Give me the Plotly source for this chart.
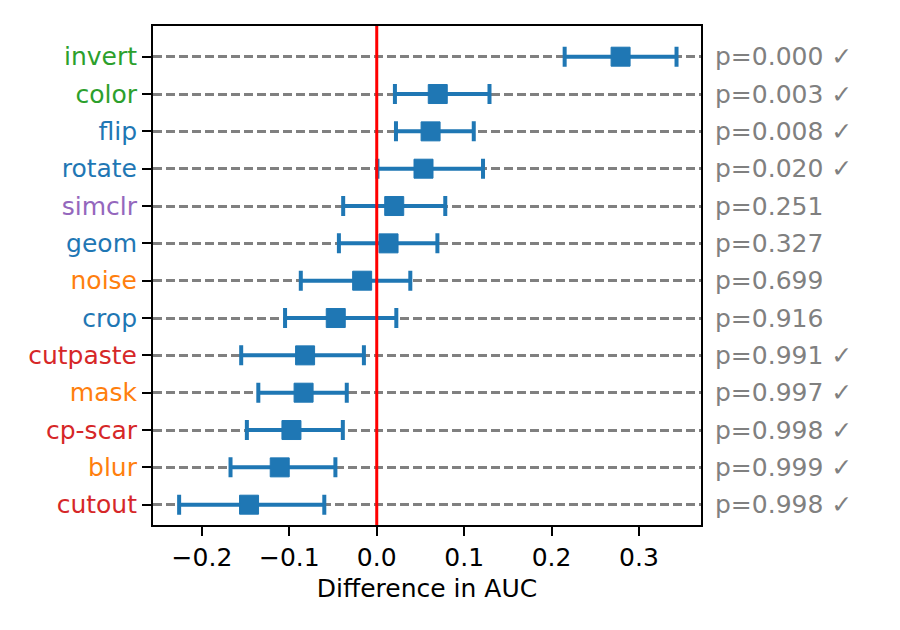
import plotly.graph_objects as go

# ---- data (top row first) ----
methods = ["invert", "color", "flip", "rotate", "simclr", "geom", "noise",
           "crop", "cutpaste", "mask", "cp-scar", "blur", "cutout"]
mean_diff = [0.279, 0.0698, 0.0616, 0.0535, 0.020, 0.0135, -0.0167,
             -0.0469, -0.082, -0.0837, -0.0976, -0.111, -0.1461]
ci_low = [0.215, 0.0208, 0.022, 0.0008, -0.0384, -0.0433, -0.0869,
          -0.1049, -0.1551, -0.1355, -0.1486, -0.1673, -0.2261]
ci_high = [0.343, 0.129, 0.111, 0.1216, 0.0784, 0.0694, 0.0384,
           0.0224, -0.0147, -0.0343, -0.0388, -0.0473, -0.060]
p_values = ["0.000", "0.003", "0.008", "0.020", "0.251", "0.327", "0.699",
            "0.916", "0.991", "0.997", "0.998", "0.999", "0.998"]
significant = [True, True, True, True, False, False, False,
               False, True, True, True, True, True]
label_colors = ["#2ca02c", "#2ca02c", "#1f77b4", "#1f77b4", "#9467bd", "#1f77b4",
                "#ff7f0e", "#1f77b4", "#d62728", "#ff7f0e", "#d62728", "#ff7f0e",
                "#d62728"]
x_tickvals = [-0.2, -0.1, 0.0, 0.1, 0.2, 0.3]
x_ticktext = ["\u22120.2", "\u22120.1", "0.0", "0.1", "0.2", "0.3"]

FONT = "DejaVu Sans"
FS = 25
BLUE = "#1f77b4"

err_plus = [h - m for h, m in zip(ci_high, mean_diff)]
err_minus = [m - l for m, l in zip(mean_diff, ci_low)]

fig = go.Figure()
fig.add_trace(go.Scatter(
    x=mean_diff, y=methods, mode="markers",
    marker=dict(symbol="square", size=19, color=BLUE,
                line=dict(color=BLUE, width=1)),
    error_x=dict(type="data", array=err_plus, arrayminus=err_minus,
                 color=BLUE, thickness=4, width=10),
    showlegend=False, hoverinfo="skip",
))

# zero line
fig.add_shape(type="line", xref="x", yref="paper", x0=0, x1=0, y0=0, y1=1,
              line=dict(color="red", width=3), layer="above")

# p-value annotations
for m, p, s in zip(methods, p_values, significant):
    fig.add_annotation(
        x=1, xref="paper", y=m, yref="y", xanchor="left", yanchor="middle",
        xshift=12, text=f"p={p}" + (" \u2713" if s else ""), showarrow=False,
        font=dict(family=FONT, size=FS, color="#808080"),
    )

order = methods[::-1]
ticktext = [f'<span style="color:{c}">{m}</span>' for m, c in zip(methods, label_colors)]

fig.update_layout(
    width=900, height=630,
    margin=dict(l=145, r=207, t=18, b=113),
    paper_bgcolor="white", plot_bgcolor="white",
    font=dict(family=FONT, size=FS, color="black"),
    xaxis=dict(
        range=[-0.256, 0.371], tickvals=x_tickvals, ticktext=x_ticktext,
        showgrid=False, zeroline=False,
        showline=True, linecolor="black", linewidth=2, mirror=True,
        ticks="outside", ticklen=9, tickwidth=2, tickcolor="black",
        tickfont=dict(family=FONT, size=FS, color="black"),
        title=dict(text="Difference in AUC", standoff=8,
                   font=dict(family=FONT, size=FS, color="black")),
    ),
    yaxis=dict(
        type="category", categoryorder="array", categoryarray=order,
        range=[-0.544, 12.822],
        tickvals=methods, ticktext=ticktext,
        showgrid=True, gridcolor="#808080", gridwidth=2.5, griddash="9px,4px",
        zeroline=False,
        showline=True, linecolor="black", linewidth=2, mirror=True,
        ticks="outside", ticklen=9, tickwidth=2, tickcolor="black",
        tickfont=dict(family=FONT, size=FS),
    ),
)

fig.write_html("out.html")
